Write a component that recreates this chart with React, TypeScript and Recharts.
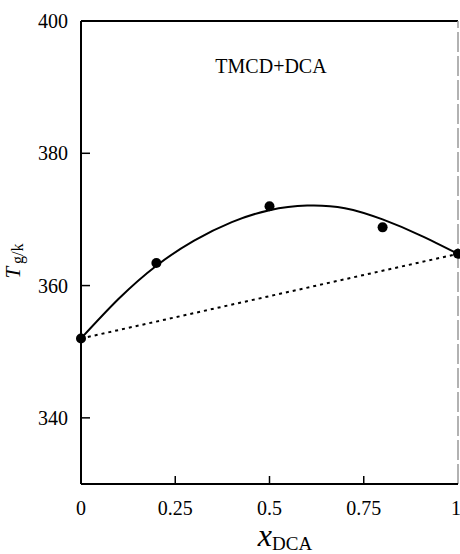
import {
  ComposedChart,
  Line,
  Scatter,
  XAxis,
  YAxis,
  ReferenceLine,
} from 'recharts'

// measured Tg points (x_DCA, Tg/K)
const pointX = [0, 0.2, 0.5, 0.8, 1]
const pointTg = [352.0, 363.4, 372.0, 368.8, 364.8]

// fitted curve
const curveX = [0, 0.1, 0.2, 0.3, 0.4, 0.5, 0.6, 0.7, 0.8, 0.9, 1]
const curveTg = [352.0, 358.0, 363.0, 366.8, 369.6, 371.4, 372.1, 371.7, 370.0, 367.6, 364.8]

// linear (additivity) line
const lineX = [0, 1]
const lineTg = [352.0, 364.8]

const xTicks = [0, 0.25, 0.5, 0.75, 1]
const xTickLabels = ['0', '0.25', '0.5', '0.75', '1']
const yTicks = [340, 360, 380, 400]

const points = pointX.map((x, i) => ({ x, tg: pointTg[i] }))
const curve = curveX.map((x, i) => ({ x, tg: curveTg[i] }))
const linear = lineX.map((x, i) => ({ x, tg: lineTg[i] }))

const FONT = '"Liberation Serif", "DejaVu Serif", serif'

function YTick(props: any) {
  const { x, y, payload } = props
  const ax = x + 13
  return (
    <g>
      {payload.value !== 400 && <line x1={ax} y1={y} x2={ax + 9} y2={y} stroke="#000" strokeWidth={1.5} />}
      <text x={x} y={y} dy={7} textAnchor="end" fontFamily={FONT} fontSize={20} fill="#000">
        {payload.value}
      </text>
    </g>
  )
}

function XTick(props: any) {
  const { x, y, payload } = props
  const ay = y - 19
  const idx = xTicks.indexOf(payload.value)
  const inner = payload.value > 0 && payload.value < 1
  return (
    <g>
      {inner && <line x1={x} y1={ay} x2={x} y2={ay - 8} stroke="#000" strokeWidth={1.5} />}
      <text x={x} y={y} dy={12} textAnchor="middle" fontFamily={FONT} fontSize={20} fill="#000">
        {xTickLabels[idx]}
      </text>
    </g>
  )
}

export default function App() {
  return (
    <div style={{ position: 'absolute', left: 0, top: 0, width: 460, height: 554, background: '#fff' }}>
      <ComposedChart width={460} height={554} margin={{ top: 21, right: 2, left: 0, bottom: 0 }}>
        <XAxis
          type="number"
          dataKey="x"
          domain={[0, 1]}
          ticks={xTicks}
          tickSize={0}
          tickMargin={19}
          tick={<XTick />}
          axisLine={{ stroke: '#000', strokeWidth: 2 }}
          tickLine={false}
          height={70}
          label={{
            position: 'insideBottom',
            content: () => (
              <text x={285} y={546} textAnchor="middle" fontFamily={FONT} fill="#000">
                <tspan fontStyle="italic" fontSize={32}>x</tspan>
                <tspan fontSize={19} dy={4}>DCA</tspan>
              </text>
            ),
          }}
        />
        <YAxis
          type="number"
          dataKey="tg"
          domain={[330, 400]}
          ticks={yTicks}
          tickSize={0}
          tickMargin={13}
          tick={<YTick />}
          axisLine={{ stroke: '#000', strokeWidth: 2 }}
          tickLine={false}
          width={81}
          label={{
            position: 'insideLeft',
            content: () => (
              <text
                x={20}
                y={261}
                transform="rotate(-90 20 261)"
                textAnchor="middle"
                fontFamily={FONT}
                fill="#000"
              >
                <tspan fontStyle="italic" fontSize={21}>T</tspan>
                <tspan fontSize={16} dx={3} dy={3}>g/k</tspan>
              </text>
            ),
          }}
        />
        <ReferenceLine y={400} stroke="#000" strokeWidth={2} />
        <ReferenceLine x={1} stroke="#999" strokeWidth={1.5} strokeDasharray="20 4" />
        <Line
          data={linear}
          dataKey="tg"
          type="linear"
          stroke="#000"
          strokeWidth={2}
          strokeDasharray="3 4"
          dot={false}
          isAnimationActive={false}
        />
        <Line
          data={curve}
          dataKey="tg"
          type="natural"
          stroke="#000"
          strokeWidth={2}
          dot={false}
          isAnimationActive={false}
        />
        <Scatter data={points} dataKey="tg" fill="#000" shape={(p: any) => <circle cx={p.cx} cy={p.cy} r={5} fill="#000" />} isAnimationActive={false} />
        <text x={271} y={73} textAnchor="middle" fontFamily={FONT} fontSize={20} fill="#000">
          TMCD+DCA
        </text>
      </ComposedChart>
    </div>
  )
}
